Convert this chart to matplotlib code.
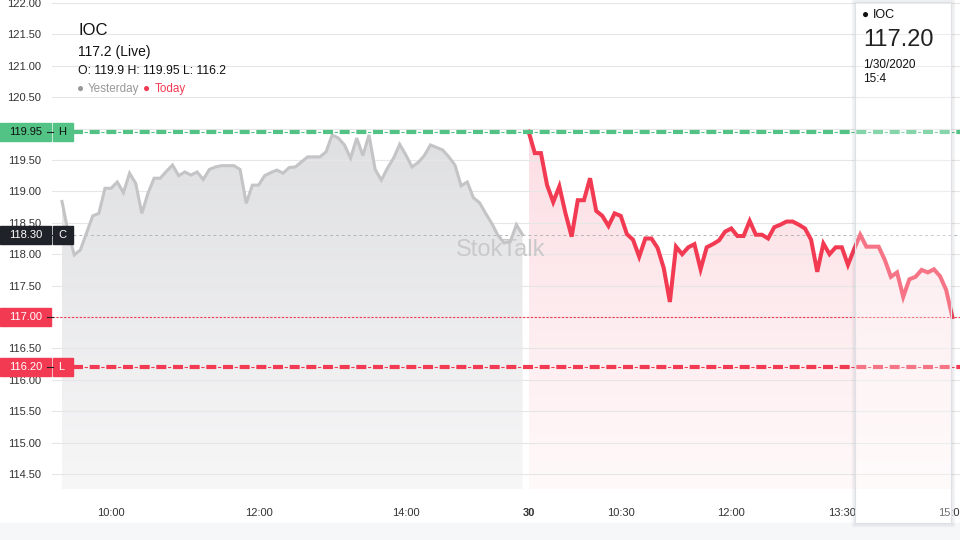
import numpy as np
import matplotlib.pyplot as plt
from matplotlib import transforms
from matplotlib.patches import Rectangle, Polygon, FancyBboxPatch

plt.rcParams['font.family'] = ['Liberation Sans', 'DejaVu Sans']

# prices, one point per 5 minutes
yesterday = [118.84, 118.35, 117.99, 118.07, 118.34, 118.61, 118.65, 119.05, 119.05, 119.15,
             118.98, 119.29, 119.13, 118.65, 118.97, 119.21, 119.21, 119.32, 119.42, 119.25,
             119.31, 119.26, 119.31, 119.19, 119.35, 119.39, 119.41, 119.41, 119.41, 119.35,
             118.81, 119.10, 119.10, 119.25, 119.30, 119.34, 119.29, 119.38, 119.39, 119.47,
             119.55, 119.55, 119.55, 119.63, 119.90, 119.85, 119.74, 119.53, 119.85, 119.57,
             119.90, 119.35, 119.18, 119.37, 119.53, 119.75, 119.58, 119.39, 119.46, 119.57,
             119.74, 119.70, 119.66, 119.55, 119.42, 119.09, 119.15, 118.90, 118.82, 118.65,
             118.49, 118.30, 118.18, 118.20, 118.47, 118.31]
today = [119.95, 119.61, 119.61, 119.10, 118.83, 119.08, 118.65, 118.28, 118.86, 118.86,
         119.21, 118.69, 118.61, 118.45, 118.65, 118.61, 118.32, 118.23, 117.96, 118.25,
         118.25, 118.10, 117.78, 117.24, 118.12, 118.00, 118.11, 118.16, 117.76, 118.11,
         118.16, 118.22, 118.36, 118.41, 118.29, 118.29, 118.53, 118.31, 118.31, 118.25,
         118.43, 118.47, 118.52, 118.52, 118.47, 118.41, 118.23, 117.72, 118.17, 118.00,
         118.11, 118.11, 117.83, 118.08, 118.31, 118.12, 118.12, 118.12, 117.91, 117.64,
         117.71, 117.32, 117.60, 117.64, 117.75, 117.71, 117.76, 117.65, 117.43, 117.00]

x_tick_pos = [8, 32, 56, 76, 91, 109, 127, 145]
x_tick_labels = ['10:00', '12:00', '14:00', '30', '10:30', '12:00', '13:30', '15:00']
y_ticks = [114.5, 115.0, 115.5, 116.0, 116.5, 117.0, 117.5, 118.0,
           118.5, 119.0, 119.5, 120.0, 120.5, 121.0, 121.5, 122.0]

high, close, last, low = 119.95, 118.30, 117.00, 116.20

GREEN = '#52c285'
RED = '#f23a52'
DARK = '#1f2329'

W, H = 960, 540
fig = plt.figure(figsize=(9.6, 5.4), dpi=100)
ax = fig.add_axes([52 / W, 1 - 498 / H, 1 - 52 / W, 498 / H])
ax.set_facecolor('none')

x_y = np.arange(len(yesterday))
x_t = np.arange(len(today)) + len(yesterday)
y_bottom = 114.118
base = 114.26


def gradient_fill(x, y, c_top, c_bot):
    verts = [(x[0], base)] + list(zip(x, y)) + [(x[-1], base)]
    poly = Polygon(verts, facecolor='none', edgecolor='none')
    ax.add_patch(poly)
    t = np.linspace(0, 1, 256)
    img = np.zeros((256, 1, 4))
    for i in range(4):
        img[:, 0, i] = c_top[i] * (1 - t) + c_bot[i] * t
    im = ax.imshow(img, extent=[x[0], x[-1], base, max(y)], aspect='auto',
                   origin='upper', zorder=1, interpolation='bilinear')
    im.set_clip_path(poly)


gradient_fill(x_y, yesterday, (0.875, 0.877, 0.885, 1), (0.968, 0.968, 0.972, 1))
gradient_fill(x_t, today, (0.988, 0.87, 0.89, 1), (1.0, 0.977, 0.98, 1))

for v in y_ticks:
    ax.axhline(v, color='#e6e6e6', lw=0.8, zorder=1.5)

ax.text(71.5, 118.07, 'StokTalk', fontsize=17, color='#c9c9c9', ha='center',
        va='center', zorder=2)

ax.plot(x_y, yesterday, color='#c4c4c6', lw=2.2, zorder=3, solid_joinstyle='miter')
ax.plot(x_t, today, color=RED, lw=2.9, zorder=3, solid_joinstyle='miter')

# reference lines
x_from = (73 - 62) / 6.14
ax.plot([x_from, 147], [close, close], color='#b5b5b5', lw=0.7, ls=(0, (3, 3)), zorder=2.5)
ax.axhline(last, color=RED, lw=0.8, ls=(0, (2, 1.5)), zorder=2.5)
for lvl, col in [(high, GREEN), (low, RED)]:
    ax.plot([x_from, 147], [lvl, lvl], color=col, lw=0.8, ls=(0, (3, 2)), zorder=4)
    ax.plot([x_from, 147], [lvl, lvl], color=col, lw=3.0, ls=(0, (2.4, 1.6)), zorder=4)

ax.set_xlim(-1.63, 146.25)
ax.set_ylim(y_bottom, 122.048)
hidden = {high, last}
ax.set_yticks(y_ticks)
ax.set_yticklabels(['' if abs(v - 120.0) < 1e-9 or abs(v - last) < 1e-9 else f'{v:.2f}'
                    for v in y_ticks])
ax.set_xticks(x_tick_pos)
ax.set_xticklabels(x_tick_labels)
ax.tick_params(axis='y', length=0, pad=8, labelsize=8, labelcolor='#333333')
ax.tick_params(axis='x', length=0, pad=7, labelsize=8, labelcolor='#333333')
for lab in ax.get_xticklabels():
    if lab.get_text() == '30':
        lab.set_fontweight('bold')
for s in ax.spines.values():
    s.set_visible(False)

# price tags on the left
tr = transforms.blended_transform_factory(fig.transFigure, ax.transData)
h = 18 / 62.8
tags = [(high, f'{high:.2f}', 'H', GREEN, '#111111'),
        (close, f'{close:.2f}', 'C', DARK, 'white'),
        (last, f'{last:.2f}', None, RED, 'white'),
        (low, f'{low:.2f}', 'L', RED, 'white')]
for lvl, txt, letter, bg, fg in tags:
    ax.add_patch(Rectangle((0, lvl - h / 2), 51 / W, h, transform=tr, color=bg,
                           clip_on=False, zorder=10))
    ax.text(25.5 / W, lvl, txt, transform=tr, ha='center', va='center', fontsize=8,
            color=fg, zorder=11, clip_on=False)
    ax.plot([47 / W, 53 / W], [lvl, lvl], transform=tr, color=DARK, lw=0.8,
            clip_on=False, zorder=11)
    if letter:
        ax.add_patch(Rectangle((53 / W, lvl - h / 2), 20 / W, h, transform=tr, color=bg,
                               clip_on=False, zorder=10))
        ax.text(58 / W, lvl, letter, transform=tr, ha='left', va='center', fontsize=8,
                color=fg, zorder=11, clip_on=False)


def ft(x, y, s, **kw):
    fig.text(x / W, 1 - y / H, s, va='center', **kw)


ft(78, 31, 'IOC', fontsize=12, color='#111111')
ft(78, 52, '117.2 (Live)', fontsize=10, color='#111111')
ft(78, 71, 'O: 119.9 H: 119.95 L: 116.2', fontsize=8.8, color='#111111')
ft(77, 89, '●', fontsize=8.5, color='#999999')
ft(88, 89, 'Yesterday', fontsize=8.4, color='#999999')
ft(143.5, 89, '●', fontsize=8.5, color=RED)
ft(155, 89, 'Today', fontsize=8.4, color=RED)

# bottom band
fig.add_artist(Rectangle((0, 0), 1, 17 / H, transform=fig.transFigure,
                         color='#f6f7f9', zorder=-1))

# tooltip card
card_h = (538 - 17) / H
for k, a in [(3, 0.04), (2, 0.06), (1, 0.09)]:
    fig.add_artist(FancyBboxPatch(((855 - k) / W, (17 - k) / H), (96 + 2 * k) / W,
                                  card_h + 2 * k / H, boxstyle='square,pad=0',
                                  transform=fig.transFigure, facecolor='none',
                                  edgecolor=(0.3, 0.35, 0.45, a), lw=1, zorder=5))
fig.add_artist(FancyBboxPatch((855 / W, 17 / H), 96 / W, card_h,
                              boxstyle='square,pad=0', transform=fig.transFigure,
                              facecolor=(1, 1, 1, 0.3), edgecolor='#dde0e5', lw=0.8,
                              zorder=5.5))
ft(862, 15, '●', fontsize=8.5, color='#111111', zorder=6)
ft(873, 15, 'IOC', fontsize=9, color='#111111', zorder=6)
ft(863, 40, '117.20', fontsize=17, color='#222222', zorder=6)
ft(863, 65, '1/30/2020', fontsize=8.5, color='#111111', zorder=6)
ft(863, 79, '15:4', fontsize=8.5, color='#111111', zorder=6)

fig.savefig('out.png', dpi=100)
